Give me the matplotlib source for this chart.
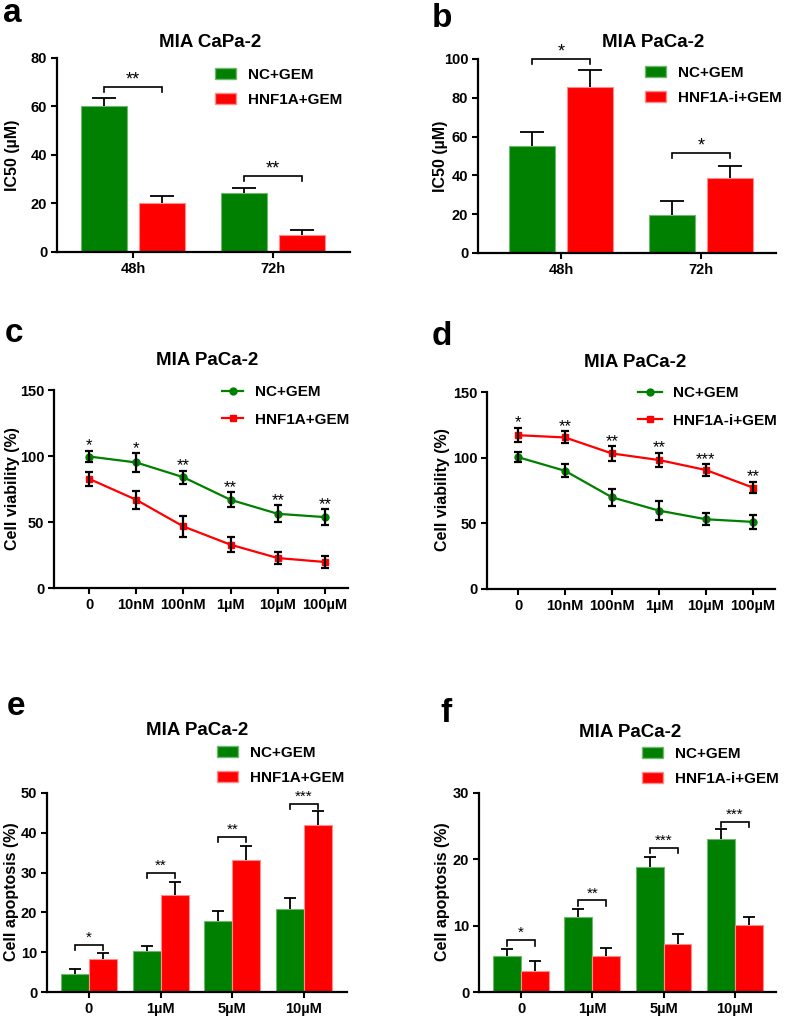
import matplotlib
matplotlib.use("Agg")
import matplotlib.pyplot as plt
import numpy as np
from matplotlib.patches import Patch

plt.rcParams['font.family'] = ['Liberation Sans', 'DejaVu Sans']
plt.rcParams['font.weight'] = 'bold'

GREEN = '#008000'
RED = '#ff0000'

# panel a: IC50, MIA CaPa-2
a_groups = ['48h', '72h']
a_nc = [60.1, 24.2]
a_nc_err = [3.4, 2.2]
a_hnf = [20.2, 7.0]
a_hnf_err = [3.0, 2.2]
a_bracket = [68.0, 31.5]
a_stars = ['**', '**']

# panel b: IC50, MIA PaCa-2
b_groups = ['48h', '72h']
b_nc = [54.9, 19.7]
b_nc_err = [7.7, 7.1]
b_hnf = [85.8, 38.6]
b_hnf_err = [8.4, 6.3]
b_bracket = [100.0, 51.5]
b_stars = ['*', '*']

# panels c, d: cell viability
doses = ['0', '10nM', '100nM', '1µM', '10µM', '100µM']
c_nc = [99.6, 95.1, 83.9, 66.8, 56.2, 53.7]
c_nc_err = [4.5, 7.0, 4.8, 5.8, 6.5, 6.0]
c_hnf = [82.7, 66.8, 46.6, 32.8, 22.7, 19.7]
c_hnf_err = [5.5, 6.8, 8.3, 5.6, 4.8, 4.6]
c_stars = ['*', '*', '**', '**', '**', '**']

d_nc = [100.4, 90.0, 69.8, 59.7, 53.1, 51.1]
d_nc_err = [4.0, 5.0, 6.6, 7.4, 4.5, 5.5]
d_hnf = [117.1, 115.4, 103.2, 98.2, 90.6, 77.2]
d_hnf_err = [5.4, 4.6, 5.4, 5.3, 4.4, 4.2]
d_stars = ['*', '**', '**', '**', '***', '**']

# panels e, f: apoptosis
ap_doses = ['0', '1µM', '5µM', '10µM']
e_nc = [4.6, 10.2, 17.8, 20.9]
e_nc_err = [1.3, 1.3, 2.6, 2.6]
e_hnf = [8.4, 24.3, 33.2, 42.0]
e_hnf_err = [1.5, 3.3, 3.6, 3.4]
e_bracket = [11.9, 29.9, 38.9, 47.3]
e_stars = ['*', '**', '**', '***']

f_nc = [5.4, 11.3, 18.9, 23.1]
f_nc_err = [1.1, 1.2, 1.5, 1.4]
f_hnf = [3.1, 5.4, 7.2, 10.05]
f_hnf_err = [1.5, 1.3, 1.5, 1.25]
f_bracket = [7.8, 13.8, 21.7, 25.7]
f_stars = ['*', '**', '***', '***']

W, H = 790, 1019
fig = plt.figure(figsize=(W / 100, H / 100), dpi=100)


def px_axes(left, top, right, bottom):
    return fig.add_axes([left / W, 1 - bottom / H, (right - left) / W, (bottom - top) / H])


def style(ax, ylim, yticks, xlim, xticks, xlabels):
    ax.set_xlim(*xlim)
    ax.set_ylim(*ylim)
    ax.set_yticks(yticks)
    ax.set_xticks(xticks)
    ax.set_xticklabels(xlabels)
    for s in ['top', 'right']:
        ax.spines[s].set_visible(False)
    for s in ['left', 'bottom']:
        ax.spines[s].set_linewidth(1.6)
    ax.tick_params(axis='both', length=4.5, width=1.5, labelsize=10.5, pad=2.5)
    for lab in ax.get_xticklabels() + ax.get_yticklabels():
        lab.set_fontweight('bold')


def fig_text(x, y, s, **kw):
    fig.text(x / W, 1 - y / H, s, **kw)


def up_errorbar(ax, x, y, err, capsize):
    # upper error only, no cap drawn on the bar top
    eb = ax.errorbar(x, y, yerr=[np.zeros(len(y)), err], fmt='none', ecolor='black',
                     elinewidth=1.3, capsize=capsize, capthick=1.3, zorder=3)
    eb[1][0].set_visible(False)


def bar_panel(ax, nc, nc_err, hnf, hnf_err, width, off, capsize, brackets, stars, tick, star_fs):
    x = np.arange(len(nc))
    ax.bar(x - off, nc, width, color=GREEN, edgecolor='#70b870', linewidth=0.8, zorder=2)
    ax.bar(x + off, hnf, width, color=RED, edgecolor='#ff8c8c', linewidth=0.8, zorder=2)
    up_errorbar(ax, x - off, nc, nc_err, capsize)
    up_errorbar(ax, x + off, hnf, hnf_err, capsize)
    for xi, yb, st in zip(x, brackets, stars):
        ax.plot([xi - off, xi - off, xi + off, xi + off], [yb - tick, yb, yb, yb - tick],
                color='black', lw=1.2, clip_on=False, solid_joinstyle='miter')
        ax.annotate(st, (xi, yb), xytext=(0, 7), textcoords='offset pixels', ha='center',
                    va='center', fontsize=star_fs, fontweight='normal', annotation_clip=False)


def bar_legend(ax, labels, left, top):
    handles = [Patch(facecolor=GREEN, edgecolor='#70b870'), Patch(facecolor=RED, edgecolor='#ff8c8c')]
    ax.legend(handles, labels, loc='upper left', bbox_to_anchor=(left / W, 1 - top / H),
              bbox_transform=fig.transFigure, frameon=False, borderpad=0,
              borderaxespad=0, handlelength=1.4, handleheight=0.72, handletextpad=0.75,
              labelspacing=0.72, prop={'weight': 'bold', 'size': 11})


def line_panel(ax, nc, nc_err, hnf, hnf_err, stars, top_vals, top_err, labels, left, top, hl):
    x = np.arange(len(nc))
    ax.plot(x, nc, color=GREEN, lw=1.6, marker='o', ms=5, label=labels[0], zorder=2)
    ax.plot(x, hnf, color=RED, lw=1.6, marker='s', ms=5, label=labels[1], zorder=2)
    ax.errorbar(x, nc, yerr=nc_err, fmt='none', ecolor='black', elinewidth=1.6,
                capsize=2.6, capthick=1.6, zorder=3)
    ax.errorbar(x, hnf, yerr=hnf_err, fmt='none', ecolor='black', elinewidth=1.6,
                capsize=2.6, capthick=1.6, zorder=3)
    for xi, v, e, st in zip(x, top_vals, top_err, stars):
        ax.annotate(st, (xi, v + e), xytext=(0, 5), textcoords='offset pixels', ha='center',
                    va='center', fontsize=12, fontweight='normal', annotation_clip=False)
    ax.legend(loc='upper left', bbox_to_anchor=(left / W, 1 - top / H),
              bbox_transform=fig.transFigure, frameon=False, borderpad=0, borderaxespad=0,
              handlelength=hl, handletextpad=0.75, labelspacing=0.9,
              prop={'weight': 'bold', 'size': 11})


# a
ax = px_axes(57, 58, 350, 252)
bar_panel(ax, a_nc, a_nc_err, a_hnf, a_hnf_err, 0.33, 0.207, 8.3, a_bracket, a_stars, 2.2, 13)
style(ax, (0, 80), range(0, 81, 20), (-0.543, 1.55), [0, 1], a_groups)
bar_legend(ax, ['NC+GEM', 'HNF1A+GEM'], 215, 68)

# b
ax = px_axes(478, 59, 776, 253)
bar_panel(ax, b_nc, b_nc_err, b_hnf, b_hnf_err, 0.33, 0.207, 8.3, b_bracket, b_stars, 2.7, 13)
style(ax, (0, 100), range(0, 101, 20), (-0.593, 1.536), [0, 1], b_groups)
bar_legend(ax, ['NC+GEM', 'HNF1A-i+GEM'], 645, 66)

# c
ax = px_axes(54, 390, 348, 588)
line_panel(ax, c_nc, c_nc_err, c_hnf, c_hnf_err, c_stars, c_nc, c_nc_err,
           ['NC+GEM', 'HNF1A+GEM'], 222, 385, 1.4)
style(ax, (0, 150), [0, 50, 100, 150], (-0.745, 5.49), range(6), doses)

# d
ax = px_axes(487, 392, 775, 589)
line_panel(ax, d_nc, d_nc_err, d_hnf, d_hnf_err, d_stars, d_hnf, d_hnf_err,
           ['NC+GEM', 'HNF1A-i+GEM'], 638, 386, 1.57)
style(ax, (0, 150), [0, 50, 100, 150], (-0.66, 5.47), range(6), doses)

# e
ax = px_axes(47, 793, 347, 992)
bar_panel(ax, e_nc, e_nc_err, e_hnf, e_hnf_err, 0.39, 0.195, 4.3, e_bracket, e_stars, 1.3, 11)
style(ax, (0, 50), range(0, 51, 10), (-0.586, 3.6), range(4), ap_doses)
bar_legend(ax, ['NC+GEM', 'HNF1A+GEM'], 217, 746)

# f
ax = px_axes(479, 793, 776, 992)
bar_panel(ax, f_nc, f_nc_err, f_hnf, f_hnf_err, 0.39, 0.195, 4.3, f_bracket, f_stars, 0.8, 11)
style(ax, (0, 30), range(0, 31, 10), (-0.589, 3.576), range(4), ap_doses)
bar_legend(ax, ['NC+GEM', 'HNF1A-i+GEM'], 642, 747)

# titles
for x, y, t in [(210, 47, 'MIA CaPa-2'), (653, 47, 'MIA PaCa-2'), (207, 365, 'MIA PaCa-2'),
                (635, 367, 'MIA PaCa-2'), (197, 735, 'MIA PaCa-2'), (630, 737, 'MIA PaCa-2')]:
    fig_text(x, y, t, ha='center', va='baseline', fontsize=13.5, fontweight='bold')

# y labels
for x, y, t in [(13, 155, 'IC50 (µM)'), (440, 156, 'IC50 (µM)'),
                (13, 489, 'Cell viability (%)'), (442, 490, 'Cell viability (%)'),
                (12, 892, 'Cell apoptosis (%)'), (442, 892, 'Cell apoptosis (%)')]:
    fig_text(x, y, t, ha='center', va='center', rotation=90, fontsize=11.5, fontweight='bold')

# panel letters
for x, y, t in [(3, 22, 'a'), (432, 27, 'b'), (5, 342, 'c'), (432, 345, 'd'),
                (7, 715, 'e'), (440, 722, 'f')]:
    fig_text(x, y, t, ha='left', va='baseline', fontsize=24, fontweight='bold')

fig.savefig('out.png', dpi=100)
